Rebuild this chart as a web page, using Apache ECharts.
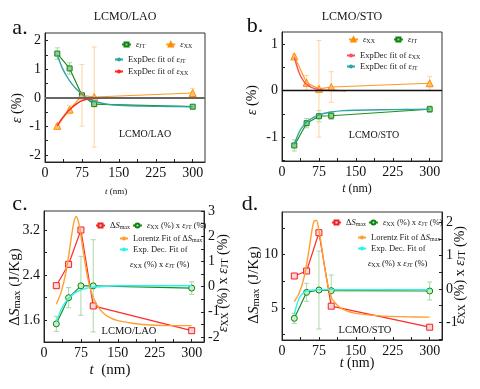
<!DOCTYPE html>
<html lang="en">
<head>
<meta charset="UTF-8">
<title>LCMO strain / entropy change vs thickness</title>
<style>
    body { margin: 0; background: #fff; }
    #myEcharts { width: 480px; height: 389px; }
</style>
<script src="https://cdn.jsdelivr.net/npm/echarts@6.0.0/dist/echarts.min.js"></script>
</head>
<body>
<div id="myEcharts"></div>
<script>
// film thickness t (nm)
var thick = [25, 50, 75, 100, 300];
var xLabels = [0, 75, 150, 225, 300];
var xTicks = [0, 37.5, 75, 112.5, 150, 187.5, 225, 262.5, 300];

// a. LCMO/LAO strain (%)
var aJT = [1.55, 1.03, 0.09, -0.22, -0.31];
var aJTErr = [0.2, 0.2, 0.06, 0.08, 0.05];
var aXX = [-0.98, -0.41, 0.09, 0.03, 0.17];
var aXXErr = [0.06, 0.15, 1.08, 1.75, 0.16];
var aJTFitX = [25, 35, 45, 55, 65, 75, 85, 100, 125, 150, 200, 250, 300];
var aJTFit = [1.5, 1.05, 0.73, 0.48, 0.28, 0.13, 0.0, -0.12, -0.22, -0.26, -0.29, -0.3, -0.31];
var aXXFitX = [25, 35, 45, 55, 65, 75, 85, 95, 110];
var aXXFit = [-0.98, -0.71, -0.5, -0.34, -0.2, -0.1, -0.05, -0.03, -0.01];

// b. LCMO/STO strain (%)
var bXX = [0.74, 0.17, 0.04, 0.08, 0.16];
var bXXErr = [0.05, 0.16, 1.04, 0.33, 0.15];
var bJT = [-1.18, -0.7, -0.55, -0.54, -0.4];
var bJTErr = [0.12, 0.1, 0.12, 0.08, 0.07];
var bXXFitX = [25, 35, 45, 55, 65, 75, 90, 110, 130];
var bXXFit = [0.72, 0.38, 0.19, 0.1, 0.05, 0.025, 0.01, 0.004, 0.0];
var bJTFitX = [25, 35, 45, 55, 65, 75, 100, 125, 150, 200, 250, 300];
var bJTFit = [-1.16, -0.89, -0.73, -0.63, -0.57, -0.52, -0.46, -0.43, -0.42, -0.41, -0.405, -0.4];

// c. LCMO/LAO  dS_max (J/Kg) and eps_xx * eps_jt
var cDS = [2.21, 2.59, 3.2, 1.85, 1.41];
var cEps = [-1.48, -0.44, 0.03, 0.03, -0.06];
var cEpsErr = [0.3, 0.4, 1.17, 1.83, 0.25];
var cLorX = [25, 35, 45, 55, 60, 65, 70, 75, 80, 90, 100, 115, 130, 150, 200, 250, 300];
var cLor = [1.88, 2.1, 2.47, 3.04, 3.31, 3.44, 3.35, 3.1, 2.8, 2.3, 2.0, 1.77, 1.66, 1.59, 1.52, 1.5, 1.5];
var cExpX = [25, 35, 45, 55, 65, 75, 85, 100, 125, 150, 200, 250, 300];
var cExp = [-1.42, -0.9, -0.58, -0.37, -0.22, -0.13, -0.07, -0.02, 0.01, 0.03, 0.03, 0.03, 0.03];

// d. LCMO/STO
var dDS = [8.0, 8.47, 12.06, 5.17, 3.2];
var dEps = [-0.88, -0.1, -0.03, -0.05, -0.06];
var dEpsErr = [0.15, 0.27, 1.17, 0.47, 0.27];
var dLorX = [25, 35, 45, 55, 60, 65, 70, 75, 80, 90, 100, 115, 130, 150, 200, 250, 300];
var dLor = [5.6, 6.4, 7.9, 10.5, 12.05, 13.14, 13.2, 12.3, 10.9, 7.9, 6.0, 5.15, 4.75, 4.5, 4.26, 4.18, 4.14];
var dExpX = [25, 35, 45, 55, 65, 75, 100, 150, 200, 250, 300];
var dExp = [-0.75, -0.27, -0.09, -0.04, -0.025, -0.02, -0.02, -0.02, -0.02, -0.02, -0.02];

var FONT = "'Liberation Serif', 'Times New Roman', serif";
var GREEN = '#1f8f1f', ORANGE = '#ff9a1f', RED = '#ff2a2a';
var LEG = 8.5;   // legend font size

function pts(xs, ys) {
    return xs.map(function (x, i) { return [x, ys[i]]; });
}

// error bars: vertical line with small caps
function errSeries(xi, yi, xs, ys, err, color, extra) {
    var s = {
        type: 'custom', xAxisIndex: xi, yAxisIndex: yi, silent: true, z: 1,
        encode: {x: 0, y: [1, 2]},
        data: xs.map(function (x, i) { return [x, ys[i] - err[i], ys[i] + err[i]]; }),
        renderItem: function (params, api) {
            var lo = api.coord([api.value(0), api.value(1)]);
            var hi = api.coord([api.value(0), api.value(2)]);
            var w = 2.5, st = {stroke: color, lineWidth: 1};
            return {
                type: 'group', children: [
                    {type: 'line', shape: {x1: lo[0], y1: lo[1], x2: hi[0], y2: hi[1]}, style: st},
                    {type: 'line', shape: {x1: lo[0] - w, y1: lo[1], x2: lo[0] + w, y2: lo[1]}, style: st},
                    {type: 'line', shape: {x1: hi[0] - w, y1: hi[1], x2: hi[0] + w, y2: hi[1]}, style: st}
                ]
            };
        }
    };
    if (extra) Object.assign(s, extra);
    return s;
}

function dataSeries(name, xi, yi, ys, symbol, size, lineColor, fill, border) {
    return {
        type: 'line', name: name, xAxisIndex: xi, yAxisIndex: yi, z: 3,
        data: pts(thick, ys), symbol: symbol, symbolSize: size, showSymbol: true,
        lineStyle: {color: lineColor, width: 1.2},
        itemStyle: {color: fill, borderColor: border, borderWidth: 1},
        emphasis: {disabled: true}
    };
}

function fitSeries(name, xi, yi, xs, ys, color) {
    return {
        type: 'line', name: name, xAxisIndex: xi, yAxisIndex: yi, z: 4,
        data: pts(xs, ys), symbol: 'none', smooth: 0.3,
        lineStyle: {color: color, width: 1.4}, itemStyle: {color: color},
        emphasis: {disabled: true}
    };
}

function makeGrid(left, top, width, height) {
    return {left: left, top: top, width: width, height: height, show: true, borderColor: '#333', borderWidth: 1};
}

function makeX(gi) {
    return {
        type: 'value', gridIndex: gi, min: 0, max: 325,
        axisLine: {show: true, onZero: false, lineStyle: {color: '#222'}},
        axisTick: {show: true, inside: true, length: 3, customValues: xTicks, lineStyle: {color: '#222'}},
        axisLabel: {customValues: xLabels, color: '#111', fontFamily: FONT, fontSize: 14, margin: 4},
        splitLine: {show: false}
    };
}

function makeY(gi, pos, min, max, labels, ticks) {
    return {
        type: 'value', gridIndex: gi, position: pos, min: min, max: max,
        axisLine: {show: true, onZero: false, lineStyle: {color: '#222'}},
        axisTick: {show: true, inside: true, length: 3, customValues: ticks, lineStyle: {color: '#222'}},
        axisLabel: {customValues: labels, color: '#111', fontFamily: FONT, fontSize: 14, margin: 4},
        splitLine: {show: false}
    };
}

var legendText = {
    'a-jt': '{e|ε}{s|JT}',
    'a-xx': '{e|ε}{s|XX}',
    'a-jt-fit': 'ExpDec fit of {e|ε}{s|JT}',
    'a-xx-fit': 'ExpDec fit of {e|ε}{s|XX}',
    'b-jt': '{e|ε}{s|JT}',
    'b-xx': '{e|ε}{s|XX}',
    'b-jt-fit': 'ExpDec fit of {e|ε}{s|JT}',
    'b-xx-fit': 'ExpDec fit of {e|ε}{s|XX}',
    'c-ds': 'Δ{e|S}{s|max}',
    'c-eps': '{e|ε}{s|XX} (%) x {e|ε}{s|JT} (%)',
    'c-lor': 'Lorentz Fit of Δ{e|S}{s|max}',
    'c-exp': 'Exp. Dec. Fit of',
    'd-ds': 'Δ{e|S}{s|max}',
    'd-eps': '{e|ε}{s|XX} (%) x {e|ε}{s|JT} (%)',
    'd-lor': 'Lorentz Fit of Δ{e|S}{s|max}',
    'd-exp': 'Exp. Dec. Fit of'
};

function makeLegend(left, top, names, orient, itemWidth, gap) {
    return {
        left: left, top: top, orient: orient, data: names, padding: 0,
        itemGap: gap, itemWidth: itemWidth, itemHeight: 5, selectedMode: false,
        formatter: function (n) { return legendText[n]; },
        textStyle: {
            fontFamily: FONT, fontSize: LEG, color: '#222',
            rich: {
                e: {fontFamily: FONT, fontStyle: 'italic', fontSize: LEG},
                s: {fontFamily: FONT, fontSize: LEG * 0.7, verticalAlign: 'bottom'}
            }
        }
    };
}

function richFor(size) {
    return {
        e: {fontFamily: FONT, fontStyle: 'italic', fontSize: size},
        s: {fontFamily: FONT, fontSize: size * 0.7, verticalAlign: 'bottom', padding: [size * 0.35, 0, 0, 0]},
        n: {fontFamily: FONT, fontSize: size}
    };
}

function txt(x, y, text, size, rot, align) {
    return {
        type: 'text', x: x, y: y, rotation: rot || 0, silent: true,
        style: {
            text: text, x: 0, y: 0, fontFamily: FONT, fontSize: size, fill: '#111',
            align: align || 'center', verticalAlign: 'middle',
            textAlign: align || 'center', textVerticalAlign: 'middle',
            rich: richFor(size)
        }
    };
}

var R90 = Math.PI / 2;

var myChart = echarts.init(document.getElementById('myEcharts'), null, {renderer: 'canvas'});

var option = {
    animation: false,
    backgroundColor: '#fff',
    textStyle: {fontFamily: FONT},
    grid: [
        makeGrid(45, 33, 160, 129),
        makeGrid(282, 32, 160, 129),
        makeGrid(44, 211, 160, 131),
        makeGrid(282, 212, 160, 128)
    ],
    xAxis: [makeX(0), makeX(1), makeX(2), makeX(3)],
    yAxis: [
        makeY(0, 'left', -2.245, 2.27, [-2, -1, 0, 1, 2], [-2, -1.5, -1, -0.5, 0, 0.5, 1, 1.5, 2]),
        makeY(1, 'left', -1.515, 1.265, [-1, 0, 1], [-1.5, -1, -0.5, 0, 0.5, 1]),
        makeY(2, 'left', 1.209, 3.538, [1.6, 2.4, 3.2], [1.6, 2.0, 2.4, 2.8, 3.2]),
        makeY(2, 'right', -2.2, 3.0, [-2, -1, 0, 1, 2, 3], [-2, -1.5, -1, -0.5, 0, 0.5, 1, 1.5, 2, 2.5, 3]),
        makeY(3, 'left', 2, 14, [5, 10], [2.5, 5, 7.5, 10, 12.5]),
        makeY(3, 'right', -1.53, 2.31, [-1, 0, 1, 2], [-1.5, -1, -0.5, 0, 0.5, 1, 1.5, 2])
    ],
    legend: [
        makeLegend(121, 40, ['a-jt', 'a-xx'], 'horizontal', 9, 20),
        makeLegend(114, 55, ['a-jt-fit', 'a-xx-fit'], 'vertical', 8, 3),
        makeLegend(348, 35, ['b-xx', 'b-jt'], 'horizontal', 9, 18),
        makeLegend(346, 51, ['b-xx-fit', 'b-jt-fit'], 'vertical', 8, 2),
        makeLegend(95, 221, ['c-ds', 'c-eps'], 'horizontal', 9, 2),
        makeLegend(119, 234, ['c-lor', 'c-exp'], 'vertical', 8, 2),
        makeLegend(331, 218, ['d-ds', 'd-eps'], 'horizontal', 9, 2),
        makeLegend(357, 233, ['d-lor', 'd-exp'], 'vertical', 8, 2)
    ],
    graphic: [
        txt(20, 28, 'a.', 22),
        txt(125, 17, 'LCMO/LAO', 12),
        txt(255, 26, 'b.', 22),
        txt(352, 17, 'LCMO/STO', 12),
        txt(20, 204, 'c.', 22),
        txt(250, 204, 'd.', 22),
        txt(145, 134, 'LCMO/LAO', 10),
        txt(374, 135, 'LCMO/STO', 10),
        txt(129, 331, 'LCMO/LAO', 10.5),
        txt(365, 330, 'LCMO/STO', 10.5),
        txt(17, 108, '{e|ε} (%)', 14, R90),
        txt(252, 100, '{e|ε} (%)', 14, R90),
        txt(15, 287, 'Δ{e|S}{s|max} (J/Kg)', 15, R90),
        txt(254, 285, 'Δ{e|S}{s|max} (J/Kg)', 15, R90),
        txt(223, 283, '{e|ε}{s|XX} (%) x {e|ε}{s|JT} (%)', 14, R90),
        txt(460, 275, '{e|ε}{s|XX} (%) x {e|ε}{s|JT} (%)', 14, R90),
        txt(116, 192, '{e|t} (nm)', 9),
        txt(357, 189, '{e|t} (nm)', 12),
        txt(110, 370, '{e|t}  (nm)', 15),
        txt(357, 363, '{e|t} (nm)', 14),
        txt(130, 265, '{e|ε}{s|XX} (%) x {e|ε}{s|JT} (%)', LEG, 0, 'left'),
        txt(368, 264, '{e|ε}{s|XX} (%) x {e|ε}{s|JT} (%)', LEG, 0, 'left')
    ],
    series: [
        // panel a
        errSeries(0, 0, thick, aJT, aJTErr, '#a8d8a8'),
        errSeries(0, 0, thick, aXX, aXXErr, '#ffd2a4', {
            markLine: {
                silent: true, symbol: 'none', label: {show: false},
                lineStyle: {color: '#666', width: 2.2, type: 'solid'},
                data: [{yAxis: 0}]
            }
        }),
        dataSeries('a-jt', 0, 0, aJT, 'rect', 5, GREEN, '#8fd08f', '#108010'),
        dataSeries('a-xx', 0, 0, aXX, 'triangle', 7, ORANGE, '#ffc070', '#ff8c00'),
        fitSeries('a-jt-fit', 0, 0, aJTFitX, aJTFit, '#2fa3a3'),
        fitSeries('a-xx-fit', 0, 0, aXXFitX, aXXFit, '#ff2626'),
        // panel b
        errSeries(1, 1, thick, bJT, bJTErr, '#a8d8a8'),
        errSeries(1, 1, thick, bXX, bXXErr, '#ffd2a4', {
            markLine: {
                silent: true, symbol: 'none', label: {show: false},
                lineStyle: {color: '#111', width: 1.4, type: 'solid'},
                data: [{yAxis: 0}]
            }
        }),
        dataSeries('b-xx', 1, 1, bXX, 'triangle', 7, ORANGE, '#ffc070', '#ff8c00'),
        dataSeries('b-jt', 1, 1, bJT, 'rect', 5, GREEN, '#8fd08f', '#108010'),
        fitSeries('b-xx-fit', 1, 1, bXXFitX, bXXFit, '#ff4d5e'),
        fitSeries('b-jt-fit', 1, 1, bJTFitX, bJTFit, '#2fa3a3'),
        // panel c
        errSeries(2, 3, thick, cEps, cEpsErr, '#a8d8a8'),
        dataSeries('c-ds', 2, 2, cDS, 'rect', 6, RED, '#ffd6d6', '#ee2020'),
        dataSeries('c-eps', 2, 3, cEps, 'circle', 6, GREEN, '#c8f0c8', '#108010'),
        fitSeries('c-lor', 2, 2, cLorX, cLor, '#ff9f30'),
        fitSeries('c-exp', 2, 3, cExpX, cExp, '#2ef0f0'),
        // panel d
        errSeries(3, 5, thick, dEps, dEpsErr, '#a8d8a8'),
        dataSeries('d-ds', 3, 4, dDS, 'rect', 6, RED, '#ffd6d6', '#ee2020'),
        dataSeries('d-eps', 3, 5, dEps, 'circle', 6, GREEN, '#c8f0c8', '#108010'),
        fitSeries('d-lor', 3, 4, dLorX, dLor, '#ff9f30'),
        fitSeries('d-exp', 3, 5, dExpX, dExp, '#2ef0f0')
    ]
};

myChart.setOption(option);
</script>
</body>
</html>
